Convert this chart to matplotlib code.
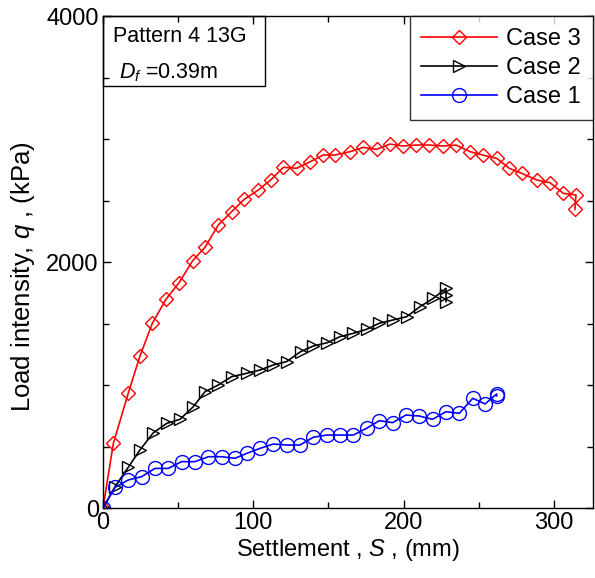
import matplotlib
matplotlib.use("Agg")
import matplotlib.pyplot as plt
from matplotlib.ticker import MultipleLocator
from matplotlib.patches import Rectangle

plt.rcParams['font.family'] = ['Liberation Sans', 'DejaVu Sans']
plt.rcParams['mathtext.fontset'] = 'custom'
plt.rcParams['mathtext.rm'] = 'Liberation Sans'
plt.rcParams['mathtext.it'] = 'Liberation Sans:italic'

# Case 3 (red diamonds)
case3_s = [0, 6.9, 16.8, 24.6, 32.8, 41.9, 50.6, 59.7, 67.9, 76.7, 85.6, 94.0, 103.3,
           111.6, 120.0, 128.8, 138.0, 146.6, 154.4, 164.3, 173.2, 182.1, 191.0, 199.4,
           208.2, 217.1, 226.0, 234.9, 244.2, 252.6, 261.9, 270.3, 278.6, 288.5, 297.4,
           306.3, 314.7, 314.0]
case3_q = [0, 526, 933, 1236, 1501, 1697, 1832, 2011, 2120, 2301, 2409, 2510, 2585,
           2667, 2770, 2762, 2816, 2870, 2870, 2897, 2932, 2916, 2959, 2943,
           2951, 2951, 2943, 2951, 2897, 2870, 2843, 2762, 2721, 2667, 2645,
           2558, 2545, 2428]

# Case 2 (black right triangles)
case2_s = [0, 8.0, 16.8, 24.6, 33.5, 42.4, 51.2, 60.1, 67.9, 76.7, 85.6, 95.6, 104.5,
           113.3, 122.1, 131.5, 139.9, 149.2, 157.7, 166.5, 175.4, 183.8, 192.7, 202.0,
           210.9, 219.8, 228.2, 228.2, 228.2]
case2_q = [0, 173, 331, 472, 612, 688, 721, 824, 946, 1000, 1068, 1095, 1122,
           1163, 1190, 1271, 1317, 1344, 1393, 1420, 1453, 1502, 1528, 1555,
           1637, 1705, 1786, 1732, 1677]

# Case 1 (blue circles)
case1_s = [0, 8.0, 16.8, 25.7, 34.6, 43.4, 52.3, 61.2, 70.1, 78.9, 87.8, 95.6, 104.5,
           113.3, 122.2, 131.0, 139.9, 148.8, 157.7, 166.5, 175.4, 183.8, 192.7, 201.6,
           210.4, 219.3, 228.2, 237.1, 246.0, 254.2, 261.9, 261.9]
case1_q = [0, 168, 228, 255, 322, 322, 377, 377, 417, 417, 404, 444, 485,
           520, 512, 512, 575, 593, 593, 593, 648, 710, 694, 756,
           748, 721, 783, 770, 892, 846, 927, 911]

FS = 17

fig = plt.figure(figsize=(5.95, 5.78), dpi=100)
ax = fig.add_axes([0.1731, 0.1211, 0.8235, 0.8512])

ax.plot(case3_s, case3_q, color='red', lw=1.2, marker='D', ms=7, mfc='none',
        mec='red', mew=1.0, label='Case 3')
ax.plot(case2_s, case2_q, color='black', lw=1.2, marker='>', ms=9, mfc='none',
        mec='black', mew=1.0, label='Case 2')
ax.plot(case1_s, case1_q, color='blue', lw=1.2, marker='o', ms=10, mfc='none',
        mec='blue', mew=1.0, label='Case 1')

ax.set_xlim(0, 326)
ax.set_ylim(0, 4000)
ax.xaxis.set_major_locator(MultipleLocator(100))
ax.xaxis.set_minor_locator(MultipleLocator(50))
ax.yaxis.set_major_locator(MultipleLocator(2000))
ax.yaxis.set_minor_locator(MultipleLocator(500))
ax.tick_params(which='both', direction='in', top=True, right=True, labelsize=FS)
ax.tick_params(which='major', length=6, width=1, pad=3)
ax.tick_params(which='minor', length=4, width=1)
for sp in ax.spines.values():
    sp.set_linewidth(1.0)

ax.set_xlabel('Settlement , $\\it{S}$ , (mm)', fontsize=FS, labelpad=2)
ax.set_ylabel('Load intensity, $\\it{q}$ , (kPa)', fontsize=18.5, labelpad=3)
ax.yaxis.set_label_coords(-0.135, 0.47)

ax.text(0.02, 0.959, 'Pattern 4 13G', transform=ax.transAxes, fontsize=15.5,
        ha='left', va='center')
ax.text(0.032, 0.884, '$\\it{D_f}$ =0.39m', transform=ax.transAxes, fontsize=15.5,
        ha='left', va='center')
ax.add_patch(Rectangle((0, 0.858), 0.331, 0.142, transform=ax.transAxes,
                       fill=False, edgecolor='black', lw=1.0, clip_on=False))

leg = ax.legend(loc='upper right', fontsize=FS, frameon=True, fancybox=False,
                edgecolor='black', borderaxespad=0, handlelength=3.2,
                labelspacing=0.3, borderpad=0.5, handletextpad=0.4)
leg.get_frame().set_linewidth(1.0)

fig.savefig('out.png', dpi=100)
